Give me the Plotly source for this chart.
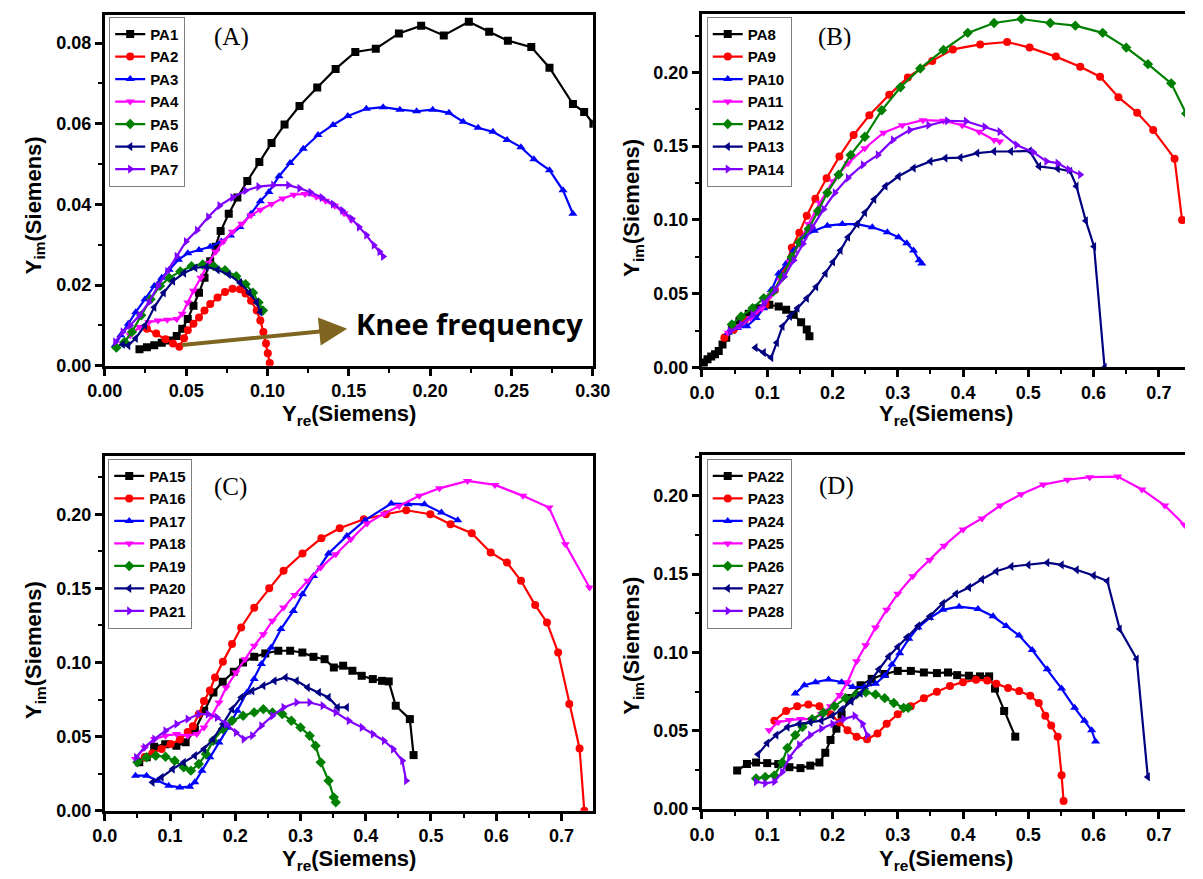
import plotly.graph_objects as go

# ---------------- Panel A ----------------
PA1_x = [0.0213,0.0259,0.0304,0.0350,0.0396,0.0442,0.0476,0.0510,0.0545,0.0579,0.0613,0.0648,0.0682,0.0712,0.0762,0.0815,0.0876,0.0950,0.1025,0.1105,0.1197,0.1306,0.1419,0.1540,0.1666,0.1808,0.1945,0.2084,0.2238,0.2363,0.2478,0.2622,0.2734,0.2878,0.2947,0.3004]
PA1_y = [0.0041,0.0046,0.0051,0.0057,0.0063,0.0074,0.0092,0.0116,0.0149,0.0181,0.0218,0.0259,0.0295,0.0334,0.0377,0.0417,0.0458,0.0505,0.0552,0.0598,0.0644,0.0690,0.0736,0.0778,0.0786,0.0824,0.0843,0.0819,0.0853,0.0828,0.0806,0.0790,0.0739,0.0649,0.0629,0.0600]
PA2_x = [0.0259,0.0316,0.0373,0.0419,0.0458,0.0487,0.0510,0.0545,0.0579,0.0613,0.0648,0.0693,0.0739,0.0785,0.0831,0.0865,0.0899,0.0934,0.0956,0.0975,0.0991,0.1002,0.1014]
PA2_y = [0.0092,0.0080,0.0066,0.0055,0.0047,0.0068,0.0088,0.0104,0.0120,0.0137,0.0153,0.0169,0.0183,0.0191,0.0190,0.0179,0.0161,0.0137,0.0112,0.0084,0.0055,0.0031,0.0007]
PA3_x = [0.0064,0.0098,0.0144,0.0190,0.0247,0.0304,0.0350,0.0396,0.0453,0.0510,0.0579,0.0648,0.0716,0.0773,0.0831,0.0899,0.0956,0.1009,0.1071,0.1139,0.1220,0.1311,0.1403,0.1494,0.1608,0.1711,0.1814,0.1917,0.2016,0.2116,0.2203,0.2295,0.2386,0.2473,0.2558,0.2638,0.2734,0.2817,0.2878]
PA3_y = [0.0051,0.0076,0.0104,0.0133,0.0165,0.0198,0.0218,0.0238,0.0263,0.0279,0.0287,0.0295,0.0308,0.0323,0.0344,0.0377,0.0408,0.0431,0.0470,0.0503,0.0538,0.0572,0.0597,0.0619,0.0637,0.0641,0.0635,0.0631,0.0635,0.0627,0.0605,0.0590,0.0580,0.0560,0.0542,0.0512,0.0485,0.0435,0.0377]
PA4_x = [0.0110,0.0156,0.0213,0.0270,0.0327,0.0384,0.0442,0.0476,0.0510,0.0545,0.0590,0.0636,0.0682,0.0728,0.0785,0.0842,0.0899,0.0956,0.1025,0.1094,0.1162,0.1231,0.1300,0.1357,0.1414,0.1471,0.1517]
PA4_y = [0.0055,0.0076,0.0096,0.0108,0.0112,0.0114,0.0116,0.0129,0.0157,0.0186,0.0218,0.0255,0.0283,0.0308,0.0332,0.0352,0.0373,0.0387,0.0401,0.0415,0.0424,0.0426,0.0419,0.0409,0.0397,0.0378,0.0362]
PA5_x = [0.0071,0.0121,0.0167,0.0224,0.0281,0.0339,0.0396,0.0464,0.0533,0.0602,0.0670,0.0739,0.0808,0.0865,0.0911,0.0945,0.0972]
PA5_y = [0.0045,0.0059,0.0084,0.0125,0.0165,0.0198,0.0218,0.0234,0.0247,0.0251,0.0247,0.0237,0.0222,0.0202,0.0181,0.0157,0.0137]
PA6_x = [0.0110,0.0144,0.0190,0.0247,0.0304,0.0362,0.0419,0.0487,0.0556,0.0625,0.0693,0.0762,0.0831,0.0888,0.0934,0.0956]
PA6_y = [0.0053,0.0050,0.0068,0.0100,0.0145,0.0181,0.0210,0.0230,0.0243,0.0245,0.0238,0.0226,0.0206,0.0181,0.0157,0.0133]
PA7_x = [0.0064,0.0110,0.0156,0.0213,0.0270,0.0327,0.0384,0.0442,0.0499,0.0567,0.0636,0.0705,0.0785,0.0865,0.0945,0.1036,0.1128,0.1197,0.1265,0.1334,0.1403,0.1460,0.1517,0.1563,0.1608,0.1654,0.1689,0.1711]
PA7_y = [0.0059,0.0084,0.0100,0.0125,0.0157,0.0198,0.0234,0.0271,0.0308,0.0336,0.0369,0.0397,0.0417,0.0434,0.0444,0.0448,0.0448,0.0440,0.0430,0.0417,0.0401,0.0385,0.0365,0.0344,0.0324,0.0299,0.0283,0.0271]

# ---------------- Panel B ----------------
PA8_x = [0.0029,0.0086,0.0143,0.0201,0.0258,0.0316,0.0373,0.0459,0.0574,0.0717,0.0861,0.1033,0.1176,0.1291,0.1406,0.1520,0.1606,0.1647]
PA8_y = [0.0034,0.0056,0.0074,0.0089,0.0112,0.0156,0.0201,0.0257,0.0313,0.0364,0.0402,0.0425,0.0413,0.0391,0.0358,0.0306,0.0257,0.0212]
PA9_x = [0.0344,0.0488,0.0660,0.0832,0.0975,0.1119,0.1251,0.1377,0.1492,0.1606,0.1738,0.1910,0.2106,0.2324,0.2565,0.2869,0.3155,0.3528,0.3844,0.4263,0.4676,0.5020,0.5422,0.5795,0.6099,0.6380,0.6667,0.6913,0.7240,0.7355]
PA9_y = [0.0201,0.0257,0.0324,0.0369,0.0425,0.0525,0.0648,0.0811,0.0914,0.1028,0.1144,0.1283,0.1430,0.1575,0.1709,0.1848,0.1966,0.2078,0.2156,0.2190,0.2206,0.2168,0.2107,0.2038,0.1971,0.1832,0.1727,0.1609,0.1415,0.0999]
PA10_x = [0.0402,0.0545,0.0688,0.0832,0.0947,0.1061,0.1176,0.1291,0.1406,0.1549,0.1721,0.1922,0.2151,0.2381,0.2610,0.2840,0.3012,0.3138,0.3242,0.3328,0.3368]
PA10_y = [0.0235,0.0268,0.0279,0.0335,0.0402,0.0525,0.0637,0.0704,0.0793,0.0883,0.0927,0.0961,0.0972,0.0972,0.0950,0.0916,0.0883,0.0842,0.0793,0.0726,0.0704]
PA11_x = [0.0402,0.0574,0.0746,0.0918,0.1061,0.1205,0.1348,0.1492,0.1635,0.1807,0.2008,0.2238,0.2496,0.2783,0.3069,0.3385,0.3700,0.3987,0.4246,0.4475,0.4561]
PA11_y = [0.0235,0.0279,0.0335,0.0402,0.0492,0.0592,0.0715,0.0838,0.0972,0.1117,0.1263,0.1385,0.1486,0.1591,0.1642,0.1676,0.1672,0.1642,0.1598,0.1542,0.1531]
PA12_x = [0.0459,0.0602,0.0775,0.0947,0.1090,0.1234,0.1377,0.1492,0.1635,0.1779,0.1922,0.2094,0.2278,0.2496,0.2754,0.3041,0.3345,0.3700,0.4073,0.4475,0.4894,0.5336,0.5720,0.6139,0.6500,0.6833,0.7189,0.7418]
PA12_y = [0.0291,0.0346,0.0402,0.0469,0.0514,0.0615,0.0749,0.0849,0.0939,0.1061,0.1184,0.1307,0.1441,0.1564,0.1743,0.1899,0.2027,0.2152,0.2268,0.2335,0.2362,0.2335,0.2317,0.2268,0.2168,0.2056,0.1926,0.1721]
PA13_x = [0.0820,0.0947,0.1061,0.1147,0.1234,0.1348,0.1463,0.1606,0.1750,0.1893,0.2008,0.2123,0.2238,0.2381,0.2496,0.2639,0.2811,0.3012,0.3242,0.3500,0.3729,0.3959,0.4217,0.4475,0.4733,0.5020,0.5164,0.5450,0.5640,0.5737,0.5881,0.6007,0.6168]
PA13_y = [0.0134,0.0101,0.0067,0.0168,0.0279,0.0346,0.0402,0.0469,0.0547,0.0637,0.0715,0.0793,0.0883,0.0972,0.1050,0.1140,0.1229,0.1296,0.1352,0.1397,0.1419,0.1423,0.1453,0.1464,0.1464,0.1468,0.1363,0.1347,0.1330,0.1229,0.0994,0.0820,0.0000]
PA14_x = [0.0430,0.0602,0.0775,0.0947,0.1119,0.1262,0.1406,0.1549,0.1692,0.1865,0.2037,0.2238,0.2467,0.2696,0.2926,0.3184,0.3471,0.3758,0.4045,0.4332,0.4561,0.4819,0.5077,0.5278,0.5450,0.5622,0.5795]
PA14_y = [0.0246,0.0291,0.0358,0.0436,0.0525,0.0615,0.0726,0.0838,0.0950,0.1073,0.1184,0.1285,0.1374,0.1441,0.1542,0.1609,0.1642,0.1672,0.1669,0.1631,0.1598,0.1508,0.1459,0.1397,0.1385,0.1341,0.1307]

# ---------------- Panel C ----------------
PA15_x = [0.0528,0.0642,0.0756,0.0926,0.1097,0.1239,0.1381,0.1523,0.1665,0.1807,0.1977,0.2119,0.2290,0.2460,0.2659,0.2841,0.3028,0.3199,0.3369,0.3511,0.3653,0.3795,0.3938,0.4108,0.4250,0.4352,0.4460,0.4676,0.4733]
PA15_y = [0.0326,0.0360,0.0431,0.0449,0.0438,0.0461,0.0544,0.0674,0.0798,0.0870,0.0937,0.1000,0.1038,0.1061,0.1079,0.1079,0.1067,0.1038,0.1022,0.0966,0.0978,0.0944,0.0910,0.0888,0.0876,0.0872,0.0708,0.0618,0.0375]
PA16_x = [0.061,0.073,0.087,0.101,0.115,0.127,0.135,0.144,0.152,0.161,0.169,0.181,0.195,0.209,0.229,0.252,0.274,0.303,0.332,0.360,0.397,0.431,0.462,0.499,0.530,0.5625,0.5915,0.6165,0.638,0.6597,0.6778,0.6949,0.712,0.7278,0.735]
PA16_y = [0.036,0.0387,0.0416,0.045,0.048,0.053,0.057,0.065,0.074,0.081,0.0899,0.1004,0.1124,0.1236,0.137,0.150,0.1618,0.1735,0.1838,0.1906,0.1966,0.2,0.2027,0.200,0.1933,0.1872,0.1742,0.1674,0.1551,0.1387,0.127,0.1067,0.0719,0.042,0.0]
PA17_x = [0.047,0.064,0.081,0.098,0.115,0.130,0.138,0.149,0.161,0.175,0.189,0.203,0.218,0.229,0.240,0.255,0.270,0.289,0.303,0.320,0.343,0.371,0.399,0.439,0.465,0.490,0.516,0.541]
PA17_y = [0.0236,0.0236,0.0202,0.0169,0.0157,0.0162,0.0191,0.027,0.036,0.046,0.056,0.0674,0.0798,0.0888,0.0989,0.1101,0.1225,0.1348,0.146,0.1584,0.1735,0.1854,0.196,0.2072,0.2067,0.2067,0.2011,0.196]
PA18_x = [0.047,0.061,0.076,0.093,0.110,0.127,0.141,0.152,0.164,0.175,0.186,0.201,0.215,0.229,0.243,0.257,0.274,0.291,0.311,0.331,0.354,0.377,0.402,0.428,0.451,0.482,0.513,0.556,0.598,0.641,0.681,0.706,0.743]
PA18_y = [0.0348,0.0427,0.0483,0.0506,0.0517,0.0506,0.0517,0.0562,0.064,0.073,0.0831,0.0933,0.1022,0.1112,0.1191,0.1281,0.1371,0.1456,0.1551,0.164,0.173,0.1831,0.1937,0.2004,0.2056,0.2124,0.2175,0.2225,0.2198,0.2124,0.2045,0.1798,0.1506]
PA19_x = [0.050,0.064,0.078,0.093,0.107,0.121,0.132,0.144,0.155,0.166,0.181,0.195,0.212,0.229,0.243,0.257,0.272,0.286,0.300,0.314,0.323,0.331,0.343,0.351,0.354]
PA19_y = [0.0326,0.036,0.0371,0.0364,0.0337,0.0292,0.027,0.0315,0.0382,0.0472,0.0551,0.0607,0.064,0.0663,0.0685,0.0663,0.0652,0.0607,0.0562,0.0506,0.0438,0.0326,0.0202,0.009,0.0056]
PA20_x = [0.073,0.087,0.104,0.121,0.138,0.152,0.166,0.181,0.195,0.209,0.226,0.243,0.260,0.277,0.294,0.311,0.328,0.343,0.357,0.371]
PA20_y = [0.0191,0.0225,0.0281,0.0326,0.0371,0.0416,0.0483,0.0584,0.0685,0.0764,0.0809,0.0843,0.0876,0.0899,0.0876,0.0831,0.0798,0.0764,0.0697,0.0697]
PA21_x = [0.048,0.061,0.076,0.093,0.110,0.127,0.144,0.158,0.172,0.186,0.201,0.213,0.226,0.240,0.257,0.274,0.294,0.314,0.334,0.354,0.374,0.394,0.411,0.428,0.442,0.456,0.462]
PA21_y = [0.036,0.0427,0.0483,0.0539,0.0584,0.0618,0.0652,0.0652,0.0629,0.0584,0.0528,0.0483,0.0506,0.0573,0.064,0.0697,0.073,0.073,0.0708,0.0663,0.0607,0.0562,0.0517,0.0472,0.0416,0.0337,0.0202]

# ---------------- Panel D ----------------
PA22_x = [0.054,0.069,0.083,0.100,0.117,0.134,0.151,0.166,0.180,0.189,0.197,0.206,0.214,0.226,0.243,0.260,0.280,0.300,0.320,0.340,0.360,0.377,0.391,0.409,0.426,0.440,0.449,0.463,0.480]
PA22_y = [0.0246,0.0287,0.0297,0.0293,0.0287,0.0267,0.0261,0.0277,0.0297,0.0359,0.0441,0.0513,0.0605,0.0708,0.079,0.0831,0.0862,0.0882,0.0882,0.0872,0.0868,0.0872,0.0855,0.0851,0.0847,0.0847,0.0769,0.0626,0.0462]
PA23_x = [0.111,0.129,0.146,0.163,0.180,0.197,0.211,0.223,0.237,0.253,0.269,0.283,0.300,0.320,0.340,0.360,0.380,0.400,0.420,0.437,0.451,0.469,0.486,0.503,0.516,0.526,0.535,0.545,0.551,0.554]
PA23_y = [0.0564,0.0626,0.0656,0.0667,0.0656,0.0605,0.0554,0.0503,0.0462,0.0445,0.0482,0.0544,0.0605,0.0656,0.0708,0.0749,0.0786,0.081,0.0825,0.0821,0.08,0.0773,0.0753,0.0724,0.0677,0.0595,0.0533,0.0462,0.0215,0.0051]
PA24_x = [0.143,0.157,0.174,0.194,0.214,0.231,0.249,0.266,0.280,0.291,0.303,0.317,0.331,0.349,0.369,0.394,0.423,0.446,0.466,0.486,0.506,0.529,0.551,0.571,0.586,0.597,0.603]
PA24_y = [0.0738,0.079,0.081,0.0827,0.081,0.0779,0.0779,0.08,0.0851,0.0923,0.0995,0.1087,0.1159,0.122,0.1272,0.1292,0.1278,0.1231,0.1169,0.1108,0.1015,0.0892,0.0769,0.0646,0.0564,0.0503,0.0431]
PA25_x = [0.103,0.117,0.134,0.151,0.169,0.183,0.197,0.211,0.223,0.237,0.251,0.266,0.283,0.300,0.323,0.349,0.371,0.400,0.429,0.457,0.489,0.523,0.560,0.594,0.637,0.674,0.709,0.739]
PA25_y = [0.0503,0.0554,0.0568,0.0574,0.0574,0.0605,0.0656,0.0728,0.081,0.0944,0.1046,0.1159,0.1272,0.1374,0.1487,0.159,0.1682,0.1785,0.1856,0.1938,0.201,0.2072,0.2103,0.2119,0.2123,0.2041,0.1938,0.1815]
PA26_x = [0.083,0.097,0.111,0.123,0.131,0.143,0.154,0.169,0.186,0.203,0.220,0.237,0.251,0.266,0.280,0.294,0.309,0.316]
PA26_y = [0.0195,0.0205,0.0215,0.0297,0.039,0.0472,0.0523,0.0574,0.0615,0.0656,0.0708,0.0732,0.0745,0.0732,0.0708,0.0677,0.0646,0.0646]
PA27_x = [0.086,0.100,0.114,0.131,0.149,0.166,0.183,0.200,0.214,0.229,0.243,0.257,0.271,0.286,0.300,0.314,0.331,0.349,0.369,0.389,0.409,0.429,0.451,0.474,0.500,0.529,0.551,0.574,0.600,0.621,0.640,0.666,0.683]
PA27_y = [0.0349,0.0421,0.0472,0.0523,0.0544,0.0554,0.0564,0.0595,0.0636,0.0687,0.0738,0.081,0.0892,0.0974,0.1036,0.1097,0.1169,0.1231,0.1313,0.1374,0.1415,0.1467,0.1518,0.1549,0.1559,0.1573,0.1559,0.1528,0.1491,0.1456,0.1149,0.0958,0.0205]
PA28_x = [0.083,0.097,0.111,0.123,0.134,0.149,0.166,0.183,0.200,0.217,0.234,0.246,0.253]
PA28_y = [0.0174,0.0164,0.0174,0.0236,0.0328,0.041,0.0472,0.0513,0.0544,0.0574,0.0595,0.0544,0.0472]

panels = [
    [("PA1", PA1_x, PA1_y), ("PA2", PA2_x, PA2_y), ("PA3", PA3_x, PA3_y), ("PA4", PA4_x, PA4_y),
     ("PA5", PA5_x, PA5_y), ("PA6", PA6_x, PA6_y), ("PA7", PA7_x, PA7_y)],
    [("PA8", PA8_x, PA8_y), ("PA9", PA9_x, PA9_y), ("PA10", PA10_x, PA10_y), ("PA11", PA11_x, PA11_y),
     ("PA12", PA12_x, PA12_y), ("PA13", PA13_x, PA13_y), ("PA14", PA14_x, PA14_y)],
    [("PA15", PA15_x, PA15_y), ("PA16", PA16_x, PA16_y), ("PA17", PA17_x, PA17_y), ("PA18", PA18_x, PA18_y),
     ("PA19", PA19_x, PA19_y), ("PA20", PA20_x, PA20_y), ("PA21", PA21_x, PA21_y)],
    [("PA22", PA22_x, PA22_y), ("PA23", PA23_x, PA23_y), ("PA24", PA24_x, PA24_y), ("PA25", PA25_x, PA25_y),
     ("PA26", PA26_x, PA26_y), ("PA27", PA27_x, PA27_y), ("PA28", PA28_x, PA28_y)],
]
colors = ["#000000", "#FF0000", "#0000FF", "#FF00FF", "#008000", "#000080", "#8000FF"]
symbols = ["square", "circle", "triangle-up", "triangle-down", "diamond", "triangle-left", "triangle-right"]
panel_labels = ["(A)", "(B)", "(C)", "(D)"]

W, H = 1203, 879
SANS = "Liberation Sans, Arial, sans-serif"
SERIF = "Liberation Serif, Times New Roman, serif"

fig = go.Figure()
axkeys = [("x", "y"), ("x2", "y2"), ("x3", "y3"), ("x4", "y4")]
legkeys = ["legend", "legend2", "legend3", "legend4"]
for p, series in enumerate(panels):
    xa, ya = axkeys[p]
    for i, (name, xs, ys) in enumerate(series):
        fig.add_trace(go.Scatter(
            x=xs, y=ys, name=name, mode="lines+markers",
            xaxis=xa, yaxis=ya, legend=legkeys[p],
            line=dict(color=colors[i], width=2.2),
            marker=dict(symbol=symbols[i], color=colors[i], size=8, line=dict(width=0)),
        ))

def px_x(v):
    return v / W

def px_y(v):
    return 1 - v / H

def mk_x(domain, rng, dtick, fmt, anchor):
    return dict(domain=domain, range=rng, dtick=dtick, tick0=0, anchor=anchor,
                showline=True, linecolor="black", linewidth=3, mirror=True,
                ticks="outside", ticklen=7, tickwidth=2.5, tickcolor="black",
                showgrid=False, zeroline=False, tickformat=fmt,
                tickfont=dict(family=SANS, size=18, color="black", weight="bold"),
                minor=dict(ticks="outside", ticklen=4, tickwidth=2, tickcolor="black",
                           dtick=dtick / 2, tick0=0, showgrid=False))

def mk_y(domain, rng, dtick, fmt, anchor, mirror):
    d = mk_x(domain, rng, dtick, fmt, anchor)
    d["mirror"] = mirror
    return d

xdomA = [px_x(89.5), px_x(592.5)]
xdomB = [px_x(705), 1.0]
ydomA = [px_y(370), px_y(15)]
ydomB = [px_y(371.7), px_y(14)]
ydomC = [px_y(820), px_y(461.7)]
ydomD = [px_y(818.3), px_y(460.7)]

fig.update_layout(
    width=W, height=H, margin=dict(l=0, r=0, t=0, b=0),
    paper_bgcolor="white", plot_bgcolor="white", showlegend=True,
    xaxis=mk_x(xdomA, [0, 0.30], 0.05, ".2f", "y"),
    yaxis=mk_y(ydomA, [0, 0.087], 0.02, ".2f", "x", True),
    xaxis2=mk_x(xdomB, [0, 0.740], 0.1, ".1f", "y2"),
    yaxis2=mk_y(ydomB, [0, 0.2397], 0.05, ".2f", "x2", False),
    xaxis3=mk_x(xdomA, [0, 0.748], 0.1, ".1f", "y3"),
    yaxis3=mk_y(ydomC, [0, 0.239], 0.05, ".2f", "x3", True),
    xaxis4=mk_x(xdomB, [0, 0.740], 0.1, ".1f", "y4"),
    yaxis4=mk_y(ydomD, [0, 0.2258], 0.05, ".2f", "x4", False),
)

leg_pos = [(94, 17), (710, 17), (93, 464), (710, 464)]
for k, (lx, ly) in zip(legkeys, leg_pos):
    fig.update_layout({k: dict(x=px_x(lx), y=px_y(ly), xanchor="left", yanchor="top",
                               bgcolor="white", bordercolor="#7f7f7f", borderwidth=1,
                               font=dict(family=SANS, size=15, color="black", weight="bold"),
                               tracegroupgap=0)})

annotations = []
title_font = dict(family=SANS, size=22, color="black", weight="bold")
xt = [(340.75, 420), (957, 420), (340.75, 870), (957, 870)]
yt = [(17, 207), (634, 210), (17, 657), (634, 653)]
for (tx, ty) in xt:
    annotations.append(dict(text="Y<sub>re</sub>(Siemens)", x=px_x(tx), y=px_y(ty),
                            xref="paper", yref="paper", showarrow=False,
                            xanchor="center", yanchor="middle", font=title_font))
for (tx, ty) in yt:
    annotations.append(dict(text="Y<sub>im</sub>(Siemens)", x=px_x(tx), y=px_y(ty),
                            xref="paper", yref="paper", showarrow=False, textangle=-90,
                            xanchor="center", yanchor="middle", font=title_font))
lab_pos = [(220, 37), (842, 37), (219, 493), (844, 492)]
for lab, (lx, ly) in zip(panel_labels, lab_pos):
    annotations.append(dict(text=lab, x=px_x(lx), y=px_y(ly), xref="paper", yref="paper",
                            showarrow=False, xanchor="center", yanchor="middle",
                            font=dict(family=SERIF, size=25, color="black")))
# Knee frequency arrow + text (panel A data coordinates)
annotations.append(dict(text="", x=0.149, y=0.0092, xref="x", yref="y",
                        ax=0.0465, ay=0.0051, axref="x", ayref="y",
                        showarrow=True, arrowhead=2, arrowsize=1.4, arrowwidth=4,
                        arrowcolor="#7F6520"))
annotations.append(dict(text="Knee frequency", x=0.224, y=0.0104, xref="x", yref="y",
                        showarrow=False, xanchor="center", yanchor="middle",
                        font=dict(family="Open Sans, sans-serif", size=29, color="black", weight="bold")))
fig.update_layout(annotations=annotations)

fig.write_html("out.html")
